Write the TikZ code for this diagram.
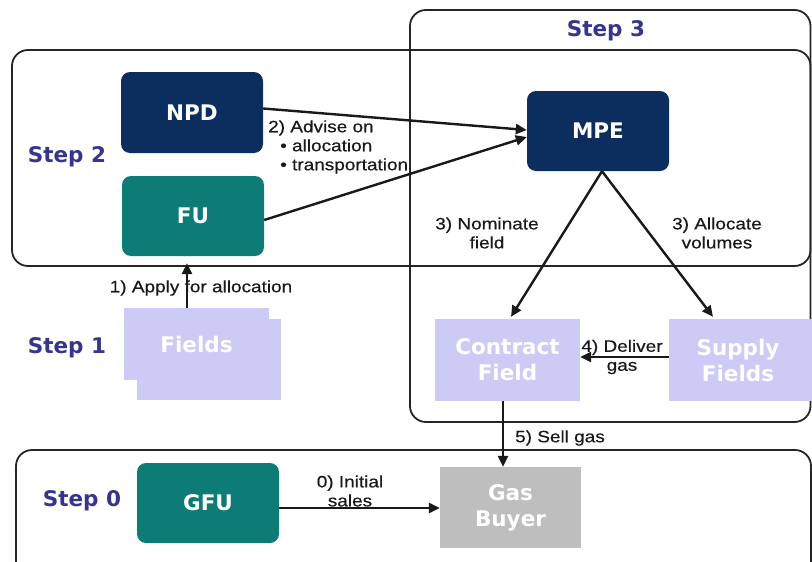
\documentclass[tikz,border=0pt]{standalone}
\usepackage{fontspec}
\usetikzlibrary{arrows.meta}
\newfontfamily\boxfont{DejaVu Sans}
\newfontfamily\lblfont[FakeStretch=1.15,FakeBold=0.4]{Liberation Sans}
\definecolor{navy}{RGB}{12,46,95}
\definecolor{tealbox}{RGB}{14,124,118}
\definecolor{lav}{RGB}{203,203,246}
\definecolor{grayb}{RGB}{190,190,190}
\definecolor{stepc}{RGB}{53,53,143}
\tikzset{
  panel/.style={draw=black!85, line width=1.8pt, rounded corners=16pt},
  boxtxt/.style={text=white, font=\boxfont\bfseries\fontsize{21.5}{26}\selectfont, align=center, inner sep=0pt},
  darkbox/.style={boxtxt, fill=navy, rounded corners=9pt},
  tealb/.style={boxtxt, fill=tealbox, rounded corners=9pt},
  lavbox/.style={boxtxt, fill=lav},
  graybox/.style={boxtxt, fill=grayb},
  steplbl/.style={text=stepc, font=\boxfont\bfseries\fontsize{21.5}{26}\selectfont, inner sep=0pt},
  lbl/.style={font=\lblfont\fontsize{16.5}{19}\selectfont, align=center, inner sep=0pt, text=black!90},
  conn/.style={line width=2.4pt, draw=black!90, -{Triangle[length=11pt,width=10pt]}}
}
\begin{document}
\begin{tikzpicture}[x=1pt,y=-1pt]
\useasboundingbox (0,0) rectangle (812,562);
\clip (0,0) rectangle (812,562);
\fill[white] (0,0) rectangle (812,562);
% panels
\draw[panel] (12,50) rectangle (810.5,266);
\draw[panel] (410,10) rectangle (810.5,422);
\draw[panel] (16,450) rectangle (811,590);
% step labels
\node[steplbl] (s2) at (67,157) {Step 2};
\node[steplbl] (s1) at (67,348) {Step 1};
\node[steplbl] (s3) at (606,31) {Step 3};
\node[steplbl] (s0) at (82,501) {Step 0};
% boxes
\node[darkbox, minimum width=142pt, minimum height=81pt] (npd) at (192,112.5) {NPD};
\node[tealb, minimum width=142pt, minimum height=80pt] (fu) at (193,216) {FU};
\node[darkbox, minimum width=142pt, minimum height=80pt] (mpe) at (598,131) {MPE};
\node[lavbox, minimum width=144pt, minimum height=81pt] (fieldsback) at (209,359.5) {};
\node[lavbox, minimum width=145pt, minimum height=72pt] (fields) at (196.5,344) {Fields};
\node[lavbox, minimum width=145pt, minimum height=82pt] (contract) at (507.5,360) {Contract\\Field};
\node[lavbox, minimum width=146pt, minimum height=82pt] (supply) at (742,360) {};
\node[boxtxt] (supplytxt) at (738,360) {Supply\\Fields};
\node[tealb, minimum width=142pt, minimum height=80pt] (gfu) at (208,503) {GFU};
\node[graybox, minimum width=141pt, minimum height=81pt] (gas) at (510.5,507.5) {Gas\\Buyer};
% connectors
\draw[conn] ([yshift=4pt]npd.east) -- ([yshift=1pt]mpe.west);
\draw[conn] ([yshift=-4pt]fu.east) -- ([yshift=-6pt]mpe.west);
\draw[conn] ([xshift=4pt]mpe.south) -- ([xshift=3.5pt,yshift=2pt]contract.north);
\draw[conn] ([xshift=4pt]mpe.south) -- ([xshift=-29pt,yshift=2pt]supply.north);
\draw[conn, shorten >=7pt] ([xshift=-9.5pt]fields.north) -- ([xshift=-6pt]fu.south);
\draw[conn] ([yshift=3pt]supply.west) -- ([yshift=3pt]contract.east);
\draw[conn] ([xshift=-4.5pt]contract.south) -- ([xshift=-7.5pt]gas.north);
\draw[conn] ([yshift=-5pt]gfu.east) -- ([yshift=-0.5pt]gas.west);
% labels
\node[lbl, align=left, anchor=west] (advise) at (268,147) {2) Advise on\\\hspace*{12pt}• allocation\\\hspace*{12pt}• transportation};
\node[lbl] (apply) at (201,288) {1) Apply for allocation};
\node[lbl] (nominate) at (487,233) {3) Nominate\\field};
\node[lbl] (allocate) at (717,233) {3) Allocate\\volumes};
\node[lbl] (deliver) at (622,357) {4) Deliver\\gas};
\node[lbl] (sell) at (560,438) {5) Sell gas};
\node[lbl] (initial) at (350,491) {0) Initial\\sales};
\end{tikzpicture}
\end{document}
